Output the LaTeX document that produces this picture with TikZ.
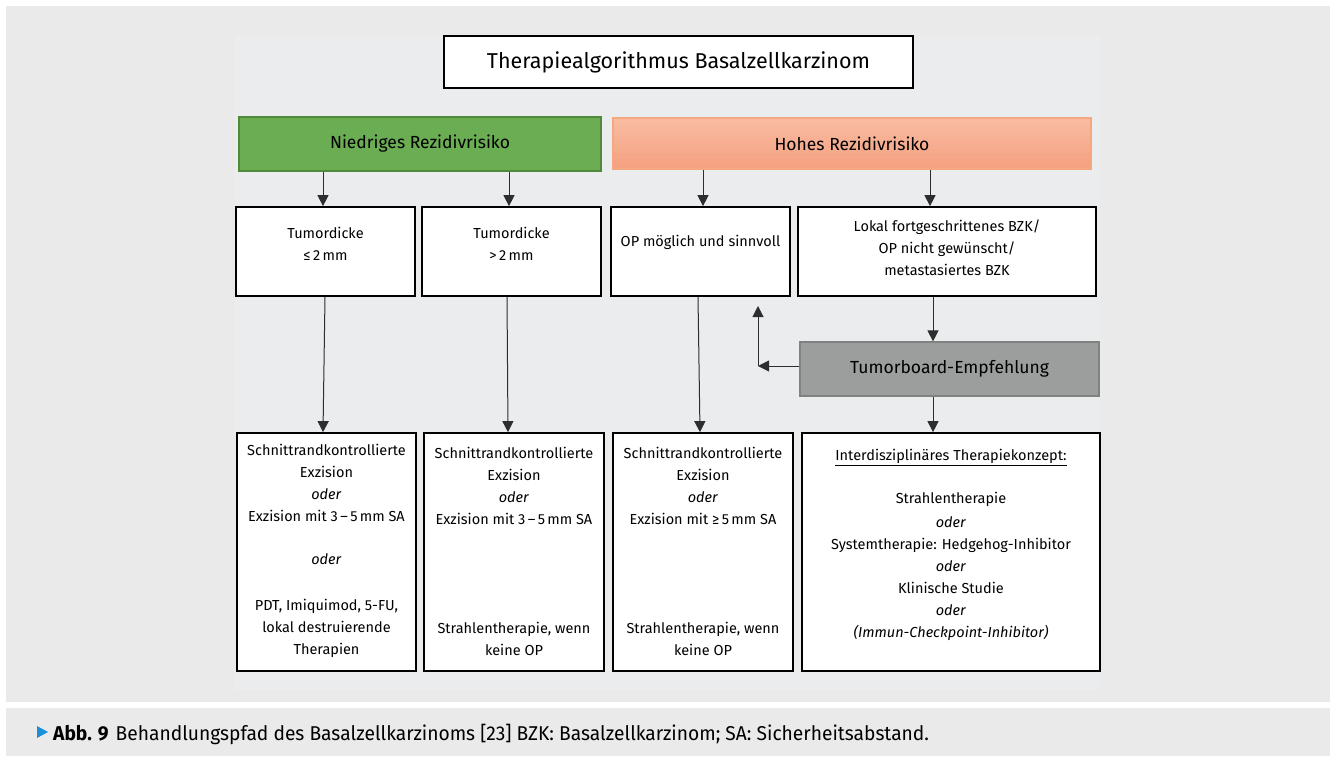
\documentclass[tikz,border=0pt]{standalone}
\usepackage{fontspec}
\setmainfont{Fira Sans}
\newfontfamily\capfont[FakeStretch=0.96]{Fira Sans}
\usetikzlibrary{arrows.meta}
\definecolor{bgout}{HTML}{EAEAEA}
\definecolor{bgin}{HTML}{EBECEE}
\definecolor{grF}{HTML}{6AAD53}
\definecolor{grD}{HTML}{4F8A3B}
\definecolor{orT}{HTML}{F9BCA2}
\definecolor{orB}{HTML}{F4A07F}
\definecolor{orD}{HTML}{F5A880}
\definecolor{tbF}{HTML}{9C9E9E}
\definecolor{tbD}{HTML}{808282}
\definecolor{capblue}{HTML}{1B8FD8}
\definecolor{lineC}{HTML}{2E2E2E}
\tikzset{
  wbox/.style={draw=black, line width=1.7pt, fill=white, inner sep=0pt},
  txt/.style={align=center, inner sep=0pt, font=\fontsize{14.5}{22}\selectfont},
  hdr/.style={font=\fontsize{17.5}{21}\selectfont, inner sep=0pt},
  arr/.style={draw=lineC, line width=1pt, -{Triangle[length=11pt,width=11pt]}},
}
\begin{document}
\begin{tikzpicture}[x=1pt,y=-1pt]
\useasboundingbox (0,0) rectangle (1335,756);
\fill[white] (0,0) rectangle (1335,756);
\fill[bgout] (6,6) rectangle (1330,702);
\fill[bgout] (6,708) rectangle (1330,756);
\fill[bgin] (235,36) rectangle (1100,690);

% title
\node[draw=black, line width=1.7pt, fill=white, minimum width=469pt, minimum height=52pt,
      font=\fontsize{21.5}{24}\selectfont] (title) at (678.5,62) {Therapiealgorithmus Basalzellkarzinom};

% headers
\node[hdr, fill=grF, draw=grD, line width=1.5pt, minimum width=362pt, minimum height=54pt] (low) at (420,144) {Niedriges Rezidivrisiko};
\node[hdr, top color=orT, bottom color=orB, draw=orD, line width=1.2pt, minimum width=478pt, minimum height=51pt] (high) at (852,143.5) {Hohes Rezidivrisiko};

% row 2
\node[wbox, minimum width=179pt, minimum height=89pt] (b1) at (325.5,251.5) {};
\node[wbox, minimum width=179pt, minimum height=89pt] (b2) at (511.5,251.5) {};
\node[wbox, minimum width=179pt, minimum height=89pt] (b3) at (700.5,251.5) {};
\node[wbox, minimum width=298pt, minimum height=89pt] (b4) at (947,251.5) {};
\node[txt] (b1t) at (325.5,243.5) {Tumordicke\\≤\,2\,mm};
\node[txt] (b2t) at (511.5,243.5) {Tumordicke\\>\,2\,mm};
\node[txt] (b3t) at (700.5,242) {OP möglich und sinnvoll};
\node[txt] (b4t) at (947,248) {Lokal fortgeschrittenes BZK/\\OP nicht gewünscht/\\metastasiertes BZK};

% tumorboard
\node[hdr, fill=tbF, draw=tbD, line width=1.2pt, minimum width=299pt, minimum height=54pt] (tb) at (949.5,369) {Tumorboard-Empfehlung};

% row 3
\node[wbox, minimum width=179pt, minimum height=238pt] (c1) at (326.5,552) {};
\node[wbox, minimum width=180pt, minimum height=238pt] (c2) at (514,552) {};
\node[wbox, minimum width=180pt, minimum height=238pt] (c3) at (703,552) {};
\node[wbox, minimum width=298pt, minimum height=238pt] (c4) at (951,552) {};
\node[txt] (c1t) at (326.5,551) {Schnittrandkontrollierte\\Exzision\\\textit{oder}\\Exzision mit 3\,–\,5\,mm SA\\[21pt]\textit{oder}\\[24pt]PDT, Imiquimod, 5-FU,\\lokal destruierende\\Therapien};
\node[txt] (c2t) at (514,551) {Schnittrandkontrollierte\\Exzision\\\textit{oder}\\Exzision mit 3\,–\,5\,mm SA\\[87pt]Strahlentherapie, wenn\\keine OP};
\node[txt] (c3t) at (703,551) {Schnittrandkontrollierte\\Exzision\\\textit{oder}\\Exzision mit ≥\,5\,mm SA\\[87pt]Strahlentherapie, wenn\\keine OP};
\node[txt] (c4t) at (951,545) {\underline{Interdisziplinäres Therapiekonzept:}\\[21pt]Strahlentherapie\\[2pt]\textit{oder}\\Systemtherapie: Hedgehog-Inhibitor\\\textit{oder}\\Klinische Studie\\\textit{oder}\\\textit{(Immun-Checkpoint-Inhibitor)}};

% arrow coordinates
\coordinate (ax1) at (323,0);
\coordinate (ax2) at (509,0);
\coordinate (ax3) at (703,0);
\coordinate (ax4) at (930,0);
\coordinate (corner) at (758,366);
\coordinate (upt) at (758,306);

\draw[arr] (low.south -| ax1) -- (b1.north -| ax1);
\draw[arr] (low.south -| ax2) -- (b2.north -| ax2);
\draw[arr] (high.south -| ax3) -- (b3.north -| ax3);
\draw[arr] (high.south -| ax4) -- (b4.north -| ax4);

\draw[arr] ([xshift=-0.5pt]b1.south) -- ([xshift=-3.5pt]c1.north);
\draw[arr] ([xshift=-4.5pt]b2.south) -- ([xshift=-6pt]c2.north);
\draw[arr] ([xshift=-2.5pt]b3.south) -- ([xshift=-3pt]c3.north);
\draw[arr] ([xshift=-14pt]b4.south) -- ([xshift=-16.5pt]tb.north);
\draw[arr] ([xshift=-16.5pt]tb.south) -- ([xshift=-18pt]c4.north);
\draw[arr] (tb.west |- corner) -- (corner);
\draw[arr] (corner) -- (upt);

% caption
\fill[capblue] (37,726) -- (48,732) -- (37,738) -- cycle;
\node[anchor=base west, inner sep=0pt, font=\capfont\fontsize{20}{24}\selectfont] (cap) at (53,740)
  {\textbf{Abb. 9}\hspace{7pt}Behandlungspfad des Basalzellkarzinoms [23] BZK: Basalzellkarzinom; SA: Sicherheitsabstand.};
\end{tikzpicture}
\end{document}
